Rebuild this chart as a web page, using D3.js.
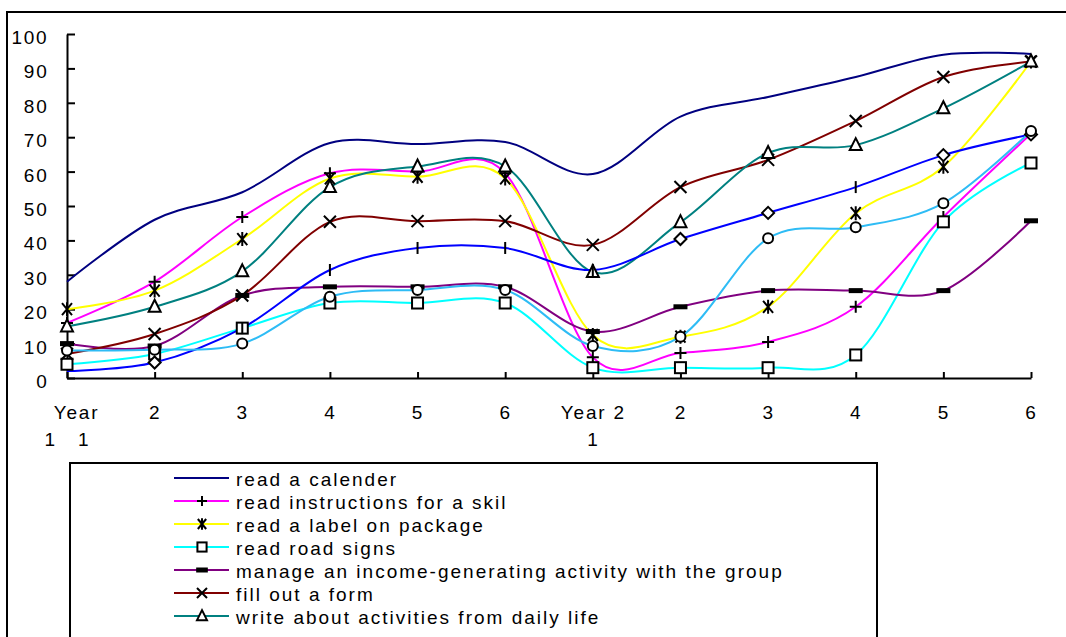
<!DOCTYPE html>
<html>
<head>
<meta charset="utf-8">
<script src="https://cdn.jsdelivr.net/npm/d3@7"></script>
<style>
  body { margin: 0; background: #fff; }
  svg { display: block; }
  text { font-family: "Liberation Sans", Arial, sans-serif; font-size: 19px; letter-spacing: 1.8px; fill: #000; }
  .legend-text { letter-spacing: 2px; }
</style>
</head>
<body>
<svg id="chart" width="1066" height="637"></svg>
<script>
// category labels (each entry = lines of the wrapped label)
const xLabels = [["Year", "1   1"], ["2"], ["3"], ["4"], ["5"], ["6"],
                 ["Year 2", "1"], ["2"], ["3"], ["4"], ["5"], ["6"]];
const yTicks = [0, 10, 20, 30, 40, 50, 60, 70, 80, 90, 100];

// series values
const calender     = [28, 46, 54, 68.3, 68, 68.6, 59.3, 76, 81.7, 87.5, 94, 94.2];
const instructions = [16, 28, 46.8, 59.5, 60, 59.5, 6, 7.3, 10.5, 20.7, 46.8, 71];
const labelPackage = [20, 25.4, 40.4, 58, 58.5, 58, 12.5, 12, 20.7, 47.9, 61.4, 92];
const roadSigns    = [4, 7, 14.5, 21.8, 21.8, 21.8, 3, 3, 3, 6.7, 45.4, 62.5];
const incomeGroup  = [10, 9.3, 24, 26.5, 26.5, 26.5, 13.5, 20.7, 25.4, 25.4, 25.4, 45.7];
const fillForm     = [7, 12.8, 24, 45.4, 45.6, 45.6, 38.7, 55.5, 63.4, 74.7, 87.5, 92];
const writeDaily   = [15, 20.7, 31, 55.5, 61.5, 61.5, 30.8, 45.3, 65.4, 67.7, 78.4, 92];
const blueSeries   = [2, 4.5, 14.5, 31.4, 37.8, 37.8, 31.4, 40.4, 48, 55.5, 64.8, 70.8];
const skySeries    = [8, 8.2, 10, 23.6, 25.6, 25.6, 9.3, 12, 40.6, 43.8, 50.8, 71.8];

const blueMarks = ["none", "diamond", "bar", "bar", "bar", "bar", "bar", "diamond", "diamond", "bar", "diamond", "diamond"];

const series = [
  { name: "read a calender", values: calender, color: "#000080", marker: "none" },
  { name: "read instructions for a skil", values: instructions, color: "#ff00ff", marker: "plus" },
  { name: "read a label on package", values: labelPackage, color: "#ffff00", marker: "star" },
  { name: "read road signs", values: roadSigns, color: "#00ffff", marker: "square" },
  { name: "manage an income-generating activity with the group", values: incomeGroup, color: "#800080", marker: "dash" },
  { name: "fill out a form", values: fillForm, color: "#800000", marker: "x" },
  { name: "write about activities from daily life", values: writeDaily, color: "#008080", marker: "triangle" },
  { name: null, values: blueSeries, color: "#0000ff", marker: blueMarks },
  { name: null, values: skySeries, color: "#2ebcf5", marker: "circle" }
];

const svg = d3.select("#chart");

// outer chart border (runs off the right and bottom edges)
svg.append("rect")
  .attr("x", 7).attr("y", 12)
  .attr("width", 1200).attr("height", 800)
  .attr("fill", "none").attr("stroke", "#000").attr("stroke-width", 2);

const x = d3.scalePoint().domain(d3.range(xLabels.length)).range([67, 1031]);
const y = d3.scaleLinear().domain([0, 100]).range([378, 34]);

// draws one marker shape centred on (0,0)
function drawMarker(g, type, s) {
  const k = s / 12;
  if (type === "none") return;
  if (type === "square") {
    g.append("rect").attr("x", -5.5 * k).attr("y", -5.5 * k).attr("width", 11 * k).attr("height", 11 * k)
      .attr("fill", "#fff").attr("stroke", "#000").attr("stroke-width", 2);
  } else if (type === "circle") {
    g.append("circle").attr("r", 5 * k).attr("fill", "#fff").attr("stroke", "#000").attr("stroke-width", 2);
  } else if (type === "triangle") {
    g.append("path").attr("d", `M0,${-7 * k}L${6 * k},${5 * k}L${-6 * k},${5 * k}Z`)
      .attr("fill", "#fff").attr("stroke", "#000").attr("stroke-width", 2);
  } else if (type === "diamond") {
    g.append("path").attr("d", `M0,${-6 * k}L${6 * k},0L0,${6 * k}L${-6 * k},0Z`)
      .attr("fill", "#fff").attr("stroke", "#000").attr("stroke-width", 2);
  } else if (type === "dash") {
    g.append("rect").attr("x", -7 * k).attr("y", -2.5).attr("width", 14 * k).attr("height", 5).attr("fill", "#000");
  } else {
    let d = "";
    if (type === "plus") d = `M${-6 * k},0H${6 * k}M0,${-6 * k}V${6 * k}`;
    if (type === "x") d = `M${-6 * k},${-6 * k}L${6 * k},${6 * k}M${-6 * k},${6 * k}L${6 * k},${-6 * k}`;
    if (type === "star") d = `M${-5 * k},${-6 * k}L${5 * k},${6 * k}M${-5 * k},${6 * k}L${5 * k},${-6 * k}M0,${-7 * k}V${7 * k}`;
    if (type === "bar") d = `M0,${-6 * k}V${6 * k}`;
    g.append("path").attr("d", d).attr("fill", "none").attr("stroke", "#000").attr("stroke-width", 2);
  }
}

// axes
const yAxis = d3.axisLeft(y).tickValues(yTicks).tickSizeInner(-8).tickSizeOuter(0).tickPadding(18.5);
const yG = svg.append("g").attr("transform", "translate(67,0)").call(yAxis);
yG.selectAll("text").attr("dy", "0.5em");

const xAxis = d3.axisBottom(x).tickSizeInner(-6).tickSizeOuter(0).tickFormat(() => "");
const xG = svg.append("g").attr("transform", "translate(0,378)").call(xAxis);
xG.selectAll(".tick text").each(function(i) {
  const t = d3.select(this).attr("y", 41).attr("dy", null).attr("xml:space", "preserve");
  xLabels[i].forEach((line, j) => {
    t.append("tspan")
      .attr("x", j === 0 && i === 0 ? 9 : 0)
      .attr("dy", j === 0 ? 0 : 27)
      .text(line);
  });
});
svg.selectAll(".domain, .tick line").attr("stroke", "#000").attr("stroke-width", 2);
svg.selectAll(".tick text").style("font-size", "19px").style("font-family", "'Liberation Sans', Arial, sans-serif");

// smoothed series lines
const line = d3.line()
  .x((d, i) => x(i))
  .y(d => y(d))
  .curve(d3.curveCardinal.tension(0));

svg.append("g").selectAll("path")
  .data(series)
  .enter()
  .append("path")
  .attr("d", d => line(d.values))
  .attr("fill", "none")
  .attr("stroke", d => d.color)
  .attr("stroke-width", 2);

// markers
series.forEach(s => {
  s.values.forEach((v, i) => {
    const type = Array.isArray(s.marker) ? s.marker[i] : s.marker;
    const g = svg.append("g").attr("transform", `translate(${x(i)},${y(v)})`);
    drawMarker(g, type, 12);
  });
});

// legend
svg.append("rect")
  .attr("x", 70).attr("y", 463)
  .attr("width", 807).attr("height", 300)
  .attr("fill", "#fff").attr("stroke", "#000").attr("stroke-width", 2);

const legendItems = series.filter(s => s.name);
const leg = svg.append("g").selectAll("g")
  .data(legendItems)
  .enter()
  .append("g")
  .attr("transform", (d, i) => `translate(0,${478 + i * 23})`);

leg.append("line")
  .attr("x1", 174).attr("x2", 229)
  .attr("stroke", d => d.color).attr("stroke-width", 2);
leg.each(function(d) {
  const g = d3.select(this).append("g").attr("transform", "translate(202,0)");
  drawMarker(g, d.marker, 10);
});
leg.append("text")
  .attr("class", "legend-text")
  .attr("x", 236).attr("y", 8)
  .text(d => d.name);
</script>
</body>
</html>
